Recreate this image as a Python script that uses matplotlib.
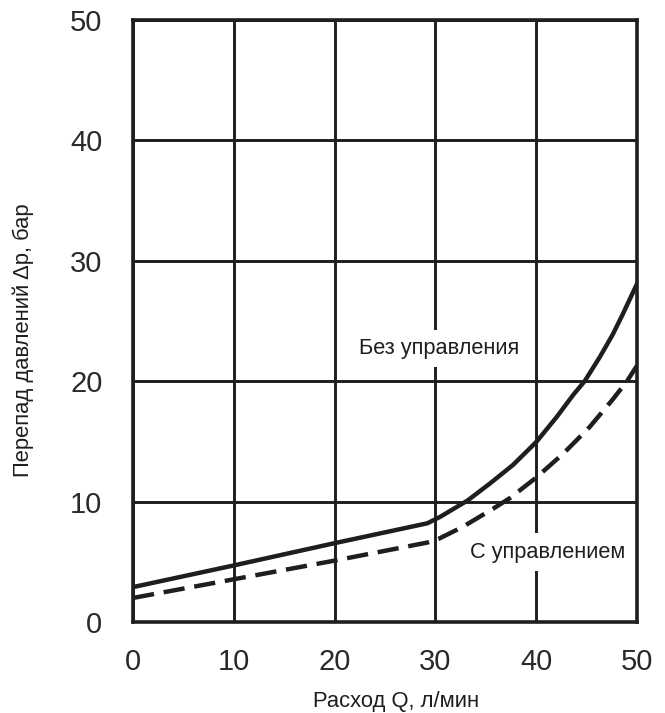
import matplotlib
matplotlib.use("Agg")
import matplotlib.pyplot as plt

plt.rcParams['font.family'] = ['Liberation Sans', 'DejaVu Sans']

# flow Q, l/min -> pressure drop, bar
q_free = [0, 10, 20, 29.2, 30.5, 33.2, 35.4, 37.7, 40, 42, 43.7, 44.8, 46.3, 47.6, 48.6, 50]
dp_free = [2.9, 4.7, 6.55, 8.2, 8.75, 10.1, 11.5, 13.05, 14.95, 17.0, 18.9, 20.0, 22.0, 23.9, 25.6, 28.1]
q_ctrl = [0, 10, 20, 29.2, 30.3, 32.7, 35.7, 37.4, 40, 42.7, 45.3, 47.6, 49, 50]
dp_ctrl = [2.0, 3.55, 5.1, 6.6, 6.9, 7.9, 9.4, 10.3, 12.0, 14.0, 16.2, 18.5, 20.0, 21.3]

ticks = [0, 10, 20, 30, 40, 50]
ink = "#1e1e1e"

fig = plt.figure(figsize=(6.65, 7.13), dpi=100)
ax = fig.add_axes([0.2, 0.1276, 0.758, 0.8444])

ax.set_xlim(0, 50); ax.set_ylim(0, 50)
ax.set_xticks(ticks); ax.set_yticks(ticks)
ax.grid(True, color=ink, linewidth=2.1)
ax.set_axisbelow(True)
for s in ax.spines.values():
    s.set_linewidth(2.6); s.set_color(ink)
ax.tick_params(length=0, labelsize=21, labelcolor="#2a2a2a")
ax.tick_params(axis='x', pad=19)
ax.tick_params(axis='y', pad=22)

ax.plot(q_free, dp_free, color=ink, linewidth=3.2, solid_joinstyle='round')
ax.plot(q_ctrl, dp_ctrl, color=ink, linewidth=3.2, dashes=(4.8, 2.2))

box = dict(facecolor='white', edgecolor='none', pad=6)
ax.text(22.4, 22.7, "Без управления", fontsize=15.7, color=ink,
        va='center', ha='left', bbox=box)
ax.text(33.4, 5.8, "С управлением", fontsize=15.7, color=ink,
        va='center', ha='left', bbox=box)

fig.text(396 / 665, 1 - 701 / 713, "Расход Q, л/мин", fontsize=15.8, color=ink,
         ha='center', va='center')
fig.text(23 / 665, 1 - 340 / 713, "Перепад давлений Δp, бар", fontsize=15.8,
         color=ink, ha='center', va='center', rotation=90)

fig.savefig("out.png", dpi=100)
